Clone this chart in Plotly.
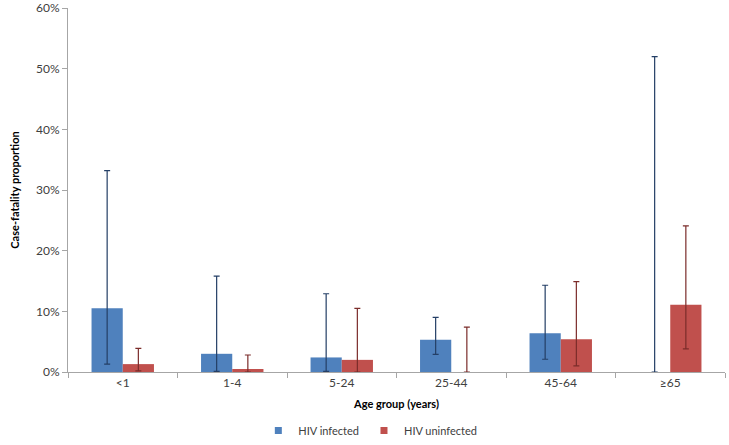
import plotly.graph_objects as go

AGE_GROUPS = ["<1", "1-4", "5-24", "25-44", "45-64", "≥65"]

HIV_POS = [10.5, 3.0, 2.4, 5.3, 6.4, 0.0]
HIV_POS_LO = [1.3, 0.1, 0.1, 2.9, 2.1, 0.0]
HIV_POS_HI = [33.2, 15.8, 12.9, 9.0, 14.3, 52.0]

HIV_NEG = [1.3, 0.5, 2.0, 0.0, 5.4, 11.1]
HIV_NEG_LO = [0.2, 0.0, 0.0, 0.0, 1.0, 3.8]
HIV_NEG_HI = [3.9, 2.8, 10.5, 7.4, 14.9, 24.1]

FONT = "Lato, Open Sans, Arial"
BLUE, RED = "#4F81BD", "#C0504D"


def err(vals, lo, hi, color):
    return dict(
        type="data", symmetric=False,
        array=[h - v for v, h in zip(vals, hi)],
        arrayminus=[v - l for v, l in zip(vals, lo)],
        color=color, thickness=1.2, width=3,
    )


fig = go.Figure()
fig.add_trace(go.Bar(
    name="HIV infected", x=AGE_GROUPS, y=HIV_POS,
    marker_color=BLUE, marker_line_width=0, showlegend=False,
    error_y=err(HIV_POS, HIV_POS_LO, HIV_POS_HI, "#243F66"),
))
fig.add_trace(go.Bar(
    name="HIV uninfected", x=AGE_GROUPS, y=HIV_NEG,
    marker_color=RED, marker_line_width=0, showlegend=False,
    error_y=err(HIV_NEG, HIV_NEG_LO, HIV_NEG_HI, "#7B2C2A"),
))
# small square legend keys, like the original
for name, col in [("HIV infected", BLUE), ("HIV uninfected", RED)]:
    fig.add_trace(go.Scatter(
        name=name, x=[None], y=[None], mode="markers",
        marker=dict(symbol="square", size=7, color=col),
    ))

fig.update_layout(
    barmode="group",
    bargap=0.43,
    bargroupgap=0,
    width=729, height=445,
    paper_bgcolor="white", plot_bgcolor="white",
    margin=dict(l=68, r=4, t=8, b=73),
    font=dict(family=FONT, size=11, color="#404040"),
    showlegend=True,
    legend=dict(orientation="h", x=0.508, xref="container", xanchor="center",
                y=0, yref="container", yanchor="bottom",
                font=dict(size=11, color="#404040"), itemwidth=30,
                tracegroupgap=0),
    xaxis=dict(
        title=dict(text="<b>Age group (years)</b>", font=dict(size=11, color="#000000"), standoff=10),
        showline=True, linecolor="#A6A6A6", linewidth=1,
        ticks="outside", tickson="boundaries", ticklen=5, tickcolor="#A6A6A6",
        tickfont=dict(size=12),
        showgrid=False, automargin=False,
    ),
    yaxis=dict(
        title=dict(text="<b>Case-fatality proportion</b>", font=dict(size=11, color="#000000"), standoff=14),
        range=[0, 60], dtick=10, ticksuffix="%",
        showline=True, linecolor="#A6A6A6", linewidth=1,
        ticks="outside", ticklen=5, tickcolor="#A6A6A6",
        tickfont=dict(size=12),
        showgrid=False, zeroline=False, automargin=False,
        ticklabeloverflow="allow",
    ),
)

fig.write_html("out.html", config={"displayModeBar": False},
               post_script="document.body.style.margin='0';")
